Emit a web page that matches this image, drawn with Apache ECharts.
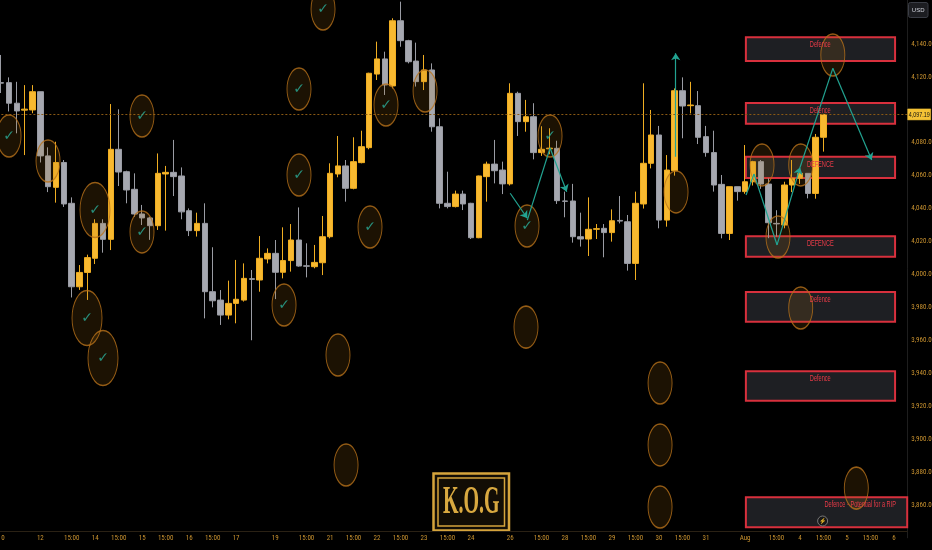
<!DOCTYPE html>
<html>
<head>
<meta charset="utf-8">
<script src="https://cdn.jsdelivr.net/npm/echarts@6/dist/echarts.min.js"></script>
<style>
  html, body { margin: 0; padding: 0; background: #000; }
  #main { width: 932px; height: 550px; }
</style>
</head>
<body>
<div id="main"></div>
<script>
// 4H candles, one row per bar: open, close, low, high
const ohlc = [
  [4116.5, 4116.2, 4110.2, 4133.3], [4116.5, 4104.0, 4099.0, 4119.7], [4104.0, 4099.3, 4085.7, 4117.0],
  [4099.8, 4100.4, 4072.5, 4115.0], [4099.9, 4111.0, 4097.9, 4115.0], [4111.0, 4072.0, 4068.0, 4111.0],
  [4072.0, 4053.3, 4050.0, 4077.2], [4052.9, 4068.0, 4043.6, 4080.6], [4068.0, 4042.8, 4041.0, 4069.5],
  [4043.2, 3992.5, 3986.0, 4046.8], [3992.5, 4001.2, 3990.6, 4005.7], [4001.2, 4010.2, 3984.5, 4012.0],
  [4009.8, 4031.0, 4006.3, 4033.5], [4031.0, 4021.3, 4013.2, 4033.5], [4021.3, 4076.0, 4014.8, 4103.5],
  [4076.0, 4062.2, 4053.7, 4100.3], [4062.4, 4051.3, 4043.2, 4063.0], [4051.7, 4036.7, 4035.0, 4061.4],
  [4036.7, 4034.3, 4030.0, 4042.2], [4034.3, 4029.6, 4021.0, 4035.0], [4029.6, 4061.4, 4027.0, 4073.5],
  [4061.0, 4062.0, 4026.6, 4065.9], [4062.0, 4059.4, 4047.6, 4081.7], [4059.8, 4038.0, 4033.5, 4065.0],
  [4038.7, 4026.6, 4023.3, 4040.1], [4026.6, 4031.0, 4023.0, 4037.5], [4031.0, 3989.5, 3973.3, 4043.2],
  [3989.5, 3984.0, 3980.0, 4016.5], [3984.4, 3975.3, 3969.3, 3990.5], [3975.3, 3982.4, 3972.7, 3996.2],
  [3982.4, 3984.9, 3970.3, 4008.8], [3984.4, 3997.6, 3983.5, 4006.7], [3997.4, 3997.0, 3960.0, 4002.7],
  [3996.6, 4009.8, 3989.5, 4023.3], [4009.4, 4012.8, 4006.7, 4015.8], [4012.8, 4001.3, 3985.0, 4020.9],
  [4001.3, 4008.4, 3997.6, 4028.6], [4008.4, 4020.9, 4001.7, 4030.6], [4020.9, 4005.1, 4004.7, 4040.7],
  [4005.2, 4005.0, 3998.2, 4018.9], [4004.7, 4007.3, 4003.7, 4017.9], [4007.1, 4022.9, 3999.6, 4035.5],
  [4022.9, 4061.4, 4021.9, 4067.5], [4061.0, 4065.9, 4059.0, 4084.1], [4065.9, 4052.3, 4044.2, 4069.5],
  [4052.3, 4068.5, 4051.7, 4083.3], [4067.9, 4077.6, 4067.5, 4087.3], [4077.0, 4122.2, 4076.0, 4122.5],
  [4121.7, 4130.9, 4118.1, 4141.4], [4130.9, 4115.1, 4109.0, 4135.3], [4114.5, 4154.1, 4113.0, 4155.6],
  [4154.1, 4142.0, 4138.3, 4165.7], [4142.0, 4129.2, 4128.2, 4142.5], [4129.6, 4117.1, 4114.1, 4140.8],
  [4117.1, 4124.2, 4112.0, 4133.3], [4124.2, 4089.7, 4086.7, 4128.2], [4089.7, 4043.2, 4040.1, 4094.8],
  [4043.2, 4041.2, 4040.1, 4062.4], [4041.2, 4048.8, 4040.7, 4050.9], [4048.8, 4042.8, 4039.1, 4050.9],
  [4043.2, 4022.3, 4021.5, 4043.5], [4022.3, 4059.8, 4022.0, 4060.0], [4059.4, 4067.0, 4044.2, 4068.5],
  [4067.0, 4063.0, 4055.3, 4081.7], [4063.4, 4055.0, 4048.8, 4068.5], [4055.0, 4110.0, 4054.0, 4116.1],
  [4110.0, 4092.8, 4084.1, 4111.0], [4092.8, 4095.8, 4086.7, 4106.0], [4095.8, 4074.0, 4069.9, 4104.0],
  [4074.0, 4076.0, 4072.0, 4090.0], [4076.3, 4076.7, 4073.0, 4088.8], [4076.6, 4044.8, 4042.8, 4081.2],
  [4044.6, 4044.4, 4034.7, 4050.3], [4044.6, 4022.9, 4019.3, 4055.0], [4022.9, 4021.5, 4016.9, 4037.5],
  [4021.5, 4027.4, 4011.2, 4046.8], [4027.4, 4027.8, 4021.5, 4030.6], [4028.0, 4025.4, 4010.4, 4030.6],
  [4025.4, 4032.6, 4019.9, 4039.5], [4032.8, 4032.4, 4031.0, 4047.6], [4032.0, 4006.7, 4002.3, 4036.1],
  [4006.7, 4043.2, 3996.6, 4050.3], [4042.8, 4067.5, 4040.0, 4116.1], [4067.5, 4084.7, 4064.4, 4099.9],
  [4084.7, 4033.0, 4028.0, 4090.2], [4033.0, 4063.4, 4029.0, 4072.5], [4063.0, 4111.6, 4060.0, 4113.0],
  [4111.6, 4102.3, 4082.7, 4119.7], [4102.5, 4102.9, 4097.8, 4117.0], [4102.5, 4083.3, 4079.2, 4111.4],
  [4083.7, 4074.0, 4071.5, 4090.2], [4074.0, 4054.3, 4050.3, 4087.3], [4054.7, 4024.9, 4021.9, 4060.4],
  [4024.9, 4053.3, 4020.9, 4053.3], [4053.3, 4050.3, 4044.8, 4053.3], [4050.3, 4056.3, 4049.0, 4078.6],
  [4056.3, 4068.5, 4054.0, 4069.0], [4068.5, 4054.9, 4052.0, 4069.5], [4054.9, 4031.4, 4022.0, 4058.4],
  [4031.0, 4030.7, 4023.0, 4039.0], [4030.0, 4054.3, 4028.0, 4056.3], [4054.3, 4058.4, 4050.0, 4069.5],
  [4058.4, 4061.4, 4055.0, 4064.4], [4061.4, 4049.2, 4046.2, 4061.4], [4049.2, 4083.3, 4046.0, 4085.3],
  [4083.3, 4097.19, 4074.6, 4097.5]
];

const lastPrice = 4097.19;

// bar index -> time label on the x axis
const xTickLabels = [
  [0, '10'], [5, '12'], [9, '15:00'], [12, '14'], [15, '15:00'], [18, '15'], [21, '15:00'],
  [24, '16'], [27, '15:00'], [30, '17'], [35, '19'], [39, '15:00'], [42, '21'], [45, '15:00'],
  [48, '22'], [51, '15:00'], [54, '23'], [57, '15:00'], [60, '24'], [65, '26'], [69, '15:00'],
  [72, '28'], [75, '15:00'], [78, '29'], [81, '15:00'], [84, '30'], [87, '15:00'], [90, '31'],
  [95, 'Aug'], [99, '15:00'], [102, '4'], [105, '15:00'], [108, '5'], [111, '15:00'], [114, '6']
];

// price ticks shown on the right axis
const yTickLabels = [3860, 3880, 3900, 3920, 3940, 3960, 3980, 4000, 4020, 4040, 4060, 4080, 4120, 4140];

// defence zones: start bar, end bar, top price, bottom price, text centre bar
const zones = [
  [95.1, 114.15, 4144.0, 4129.7, 104.6],
  [95.1, 114.15, 4104.2, 4091.6, 104.6],
  [95.1, 114.15, 4071.5, 4058.6, 104.6],
  [95.1, 114.15, 4023.2, 4010.8, 104.6],
  [95.1, 114.15, 3989.3, 3971.3, 104.6],
  [95.1, 114.15, 3941.1, 3923.3, 104.6],
  [95.1, 115.7, 3864.6, 3846.4, 109.7]
];
const zoneNames = ['Defence', 'Defence', 'DEFENCE', 'DEFENCE', 'Defence', 'Defence', 'Defence - Potential for a RIP'];

// ringed spots: bar, price
const ringsTicked = [
  [1.0, 4084.1], [17.98, 4096.2], [17.98, 4025.8], [41.1, 4161.2], [38.03, 4112.6], [38.03, 4060.4],
  [36.12, 3981.4], [47.1, 4028.8], [49.14, 4102.9], [67.15, 4029.4], [70.09, 4084.1]
];
const bigRingsTicked = [[11.98, 4039.1], [10.96, 3973.5], [13.0, 3949.2]];
const ringsPlain = [
  [5.98, 4068.9], [54.13, 4111.4], [67.02, 3968.0], [43.01, 3951.0], [44.04, 3884.2],
  [84.14, 3934.0], [84.14, 3896.4], [84.14, 3858.7], [86.18, 4050.1], [97.16, 4066.5],
  [102.1, 4066.5], [99.2, 4022.7], [106.2, 4133.3], [102.1, 3979.6], [109.2, 3870.2]
];

// projected paths (bar, price), last point carries an arrow head
const paths = [
  [[65.0, 4049.3], [67.19, 4034.1]],
  [[67.19, 4033.0], [70.09, 4076.8], [72.22, 4050.2]],
  [[86.14, 4071.5], [86.14, 4134.3]],
  [[95.12, 4048.2], [96.14, 4061.0], [99.08, 4017.9], [102.02, 4065.1]],
  [[102.02, 4065.1], [106.2, 4125.2], [111.17, 4069.5]]
];

const eventMarks = [[104.9, 3850.2]];

var chart = echarts.init(document.getElementById('main'));

const labelMap = {};
xTickLabels.forEach(d => { labelMap[d[0]] = d[1]; });
const candleData = ohlc.map((d, i) => [i, d[0], d[1], d[2], d[3]]);

// split the paths into plain segments and arrow segments
let plainSegs = [], arrowSegs = [];
paths.forEach(p => {
  for (let i = 0; i < p.length - 1; i++) {
    const seg = { coords: [p[i], p[i + 1]] };
    if (i === p.length - 2) arrowSegs.push(seg); else plainSegs.push(seg);
  }
});

const narrow = '"Liberation Sans Narrow", "Roboto Condensed", "DejaVu Sans Condensed", "Liberation Sans", sans-serif';
const axisText = '#c9922f';
const ringPath = 'path://M0,50C0,22.4 22.4,0 50,0C77.6,0 100,22.4 100,50C100,77.6 77.6,100 50,100C22.4,100 0,77.6 0,50Z';
const ringStyle = { color: 'rgba(175,110,20,0.2)', borderColor: '#b8721a', borderWidth: 1.2 };
const tick = { show: true, position: 'inside', formatter: '\u2713', color: '#2aae9a', fontSize: 14, fontWeight: 'bold', fontFamily: 'DejaVu Sans' };

chart.setOption({
  backgroundColor: '#000000',
  animation: false,
  grid: { left: -6.63, right: 24.8, top: 0, bottom: 12.2, outerBoundsMode: 'none', containLabel: false },
  xAxis: {
    type: 'value',
    min: -1,
    max: 115.7,
    interval: 1,
    offset: -6.8,
    axisLine: { show: true, onZero: false, lineStyle: { color: '#2a2114' } },
    axisTick: { show: false },
    splitLine: { show: false },
    axisLabel: {
      color: axisText, fontSize: 7, fontFamily: narrow, margin: 4,
      formatter: v => labelMap[Math.round(v)] !== undefined && Math.abs(v - Math.round(v)) < 1e-6 ? labelMap[Math.round(v)] : ''
    }
  },
  yAxis: {
    type: 'value',
    position: 'right',
    min: 3840,
    max: 4166.7,
    interval: 20,
    axisLine: { show: true, onZero: false, lineStyle: { color: '#1e1e1e' } },
    axisTick: { show: false },
    splitLine: { show: false },
    axisLabel: {
      color: axisText, fontSize: 7, fontFamily: narrow, margin: 4,
      formatter: v => yTickLabels.indexOf(v) >= 0
        ? v.toLocaleString('en-US', { minimumFractionDigits: 2, maximumFractionDigits: 2 }) : ''
    }
  },
  series: [
    {
      type: 'custom',
      name: 'zones',
      z: 1,
      data: zones,
      encode: { x: [0, 1], y: [2, 3] },
      renderItem: function (params, api) {
        const p0 = api.coord([api.value(0), api.value(2)]);
        const p1 = api.coord([api.value(1), api.value(3)]);
        return {
          type: 'rect',
          shape: { x: p0[0], y: p0[1], width: p1[0] - p0[0], height: p1[1] - p0[1] },
          style: { fill: '#1e1f23', stroke: '#d8303d', lineWidth: 2 }
        };
      }
    },
    {
      type: 'candlestick',
      name: 'XAUUSD',
      z: 3,
      data: candleData,
      encode: { x: 0, y: [1, 2, 3, 4] },
      barWidth: 6,
      itemStyle: {
        color: '#f8b930', color0: '#a6a8b0',
        borderColor: '#f0ae22', borderColor0: '#9a9ca4', borderWidth: 1
      },
      markLine: {
        silent: true,
        symbol: 'none',
        data: [{ yAxis: lastPrice }],
        lineStyle: { color: '#8a5914', type: [2, 2], width: 1 },
        label: { show: false }
      }
    },
    {
      // last price tag sitting on the price scale
      type: 'custom',
      name: 'price tag',
      z: 20,
      clip: false,
      data: [[115.7, lastPrice]],
      encode: { x: 0, y: 1 },
      renderItem: function (params, api) {
        const p = api.coord([api.value(0), api.value(1)]);
        return {
          type: 'group',
          children: [
            { type: 'rect', shape: { x: p[0] + 0.5, y: p[1] - 5.5, width: 23, height: 11 },
              style: { fill: '#f5c235', stroke: '#f5c235', lineWidth: 0.5 } },
            { type: 'text', x: p[0] + 12, y: p[1] + 0.5, scaleX: 0.72,
              style: {
                text: lastPrice.toLocaleString('en-US', { minimumFractionDigits: 2 }),
                font: '7.5px "Liberation Sans", sans-serif', fill: '#111111',
                align: 'center', verticalAlign: 'middle'
              } }
          ]
        };
      }
    },
    {
      type: 'custom',
      name: 'zone labels',
      z: 8,
      data: zones,
      encode: { x: [0, 1], y: [2, 3] },
      renderItem: function (params, api) {
        const p = api.coord([api.value(4), api.value(2)]);
        return {
          type: 'text',
          x: p[0], y: p[1] + 7.5,
          scaleX: 0.66,
          style: {
            text: zoneNames[params.dataIndex],
            font: '8.5px "Liberation Sans", sans-serif',
            fill: '#ec3b48', align: 'center', verticalAlign: 'middle'
          }
        };
      }
    },
    {
      type: 'scatter', name: 'rings', z: 5,
      data: ringsPlain, symbol: ringPath, symbolSize: [24, 42], itemStyle: ringStyle
    },
    {
      type: 'scatter', name: 'rings ticked', z: 5,
      data: ringsTicked, symbol: ringPath, symbolSize: [24, 42], itemStyle: ringStyle, label: tick
    },
    {
      type: 'scatter', name: 'big rings ticked', z: 5,
      data: bigRingsTicked, symbol: ringPath, symbolSize: [30, 55], itemStyle: ringStyle, label: tick
    },
    {
      type: 'lines', name: 'paths', coordinateSystem: 'cartesian2d', z: 6,
      data: plainSegs, symbol: 'none',
      lineStyle: { color: '#22a391', width: 1.2, opacity: 1 }
    },
    {
      type: 'lines', name: 'arrows', coordinateSystem: 'cartesian2d', z: 6,
      data: arrowSegs, symbol: ['none', 'arrow'], symbolSize: 7,
      lineStyle: { color: '#22a391', width: 1.2, opacity: 1 }
    },
    {
      type: 'scatter', name: 'events', z: 7,
      data: eventMarks, symbol: 'circle', symbolSize: 10,
      itemStyle: { color: '#161616', borderColor: '#8c8c8c', borderWidth: 1 },
      label: { show: true, position: 'inside', formatter: '\u26A1', color: '#cfcfcf', fontSize: 6 }
    }
  ],
  graphic: [
    {
      type: 'group', z: 100,
      children: [
        { type: 'rect', shape: { x: 908.5, y: 2.5, width: 19.5, height: 15, r: 2 },
          style: { fill: '#1c1d21', stroke: '#3a3d45', lineWidth: 1 } },
        { type: 'text', x: 918.2, y: 10.2,
          style: { text: 'USD', font: '6px "Liberation Sans", sans-serif', fill: '#d1d4dc', align: 'center', verticalAlign: 'middle' } }
      ]
    },
    {
      type: 'group', z: 100,
      children: [
        { type: 'rect', shape: { x: 433.5, y: 473.5, width: 75.5, height: 57 },
          style: { fill: '#120d05', stroke: '#d5a43c', lineWidth: 2.5 } },
        { type: 'rect', shape: { x: 438, y: 478, width: 66.5, height: 48 },
          style: { fill: 'none', stroke: '#d5a43c', lineWidth: 1.5 } },
        { type: 'text', x: 471.3, y: 503, scaleX: 0.5,
          style: { text: 'K.O.G', font: 'bold 40px "Liberation Serif", serif', fill: '#d9a940', align: 'center', verticalAlign: 'middle' } }
      ]
    }
  ]
});
</script>
</body>
</html>
